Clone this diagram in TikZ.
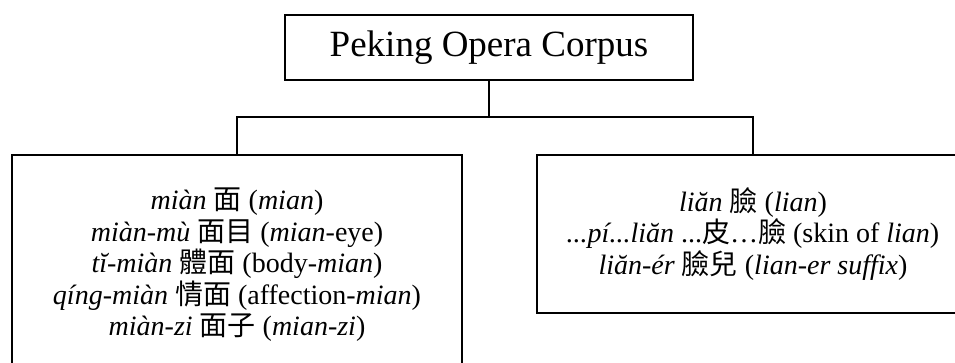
\documentclass[tikz,border=0pt]{standalone}
\usepackage{fontspec}
\setmainfont{Liberation Serif}
\newfontfamily\cjk{Noto Sans CJK TC}
\newcommand{\zh}[1]{{\cjk #1}}
\begin{document}
\begin{tikzpicture}[x=1pt,y=-1pt,
  box/.style={draw,line width=1.6pt,rectangle,inner sep=0pt,align=center},
  conn/.style={line width=1.6pt},
  body/.style={font=\fontsize{28}{31.5}\selectfont}]
\useasboundingbox (0,0) rectangle (955,362);
\clip (0,0) rectangle (955,362);
\node[box,minimum width=408pt,minimum height=65pt,font=\fontsize{37}{42}\selectfont] (top) at (489,47.5) {Peking Opera Corpus};
\node[box,body,minimum width=450pt,minimum height=220pt] (left) at (237,265)
 {\textit{miàn} \zh{面} (\textit{mian})\\
  \textit{miàn-mù} \zh{面目} (\textit{mian}-eye)\\
  \textit{tĭ-miàn} \zh{體面} (body-\textit{mian})\\
  \textit{qíng-miàn} \zh{情面} (affection-\textit{mian})\\
  \textit{miàn-zi} \zh{面子} (\textit{mian-zi})};
\node[box,body,minimum width=432pt,minimum height=158pt] (right) at (753,234)
 {\textit{liăn} \zh{臉} (\textit{lian})\\
  \textit{...pí...liăn} ...\zh{皮}…\zh{臉} (skin of \textit{lian})\\
  \textit{liăn-ér} \zh{臉兒} (\textit{lian-er suffix})};
\coordinate (bar) at (489,117);
\draw[conn] (top.south) -- (bar);
\draw[conn] (left.north) -- (left.north |- bar) -| (right.north);
\end{tikzpicture}
\end{document}
